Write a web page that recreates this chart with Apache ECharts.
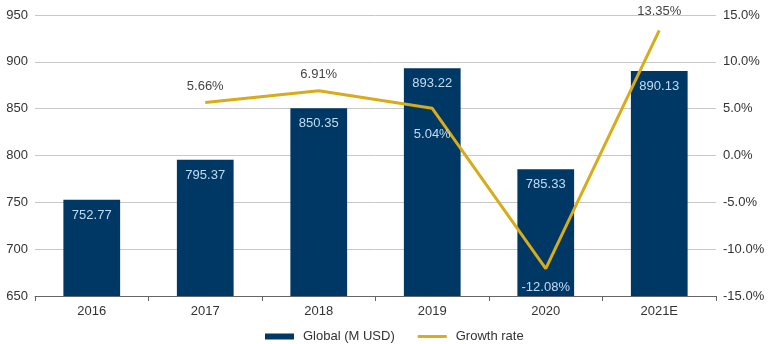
<!DOCTYPE html>
<html><head><meta charset="utf-8">
<script src="https://cdn.jsdelivr.net/npm/echarts@6/dist/echarts.min.js"></script>
<style>html,body{margin:0;padding:0;background:#fff}#c{width:770px;height:344px}</style>
</head><body><div id="c"></div>
<script>
var categories = ['2016','2017','2018','2019','2020','2021E'];
var globalValues = [752.77, 795.37, 850.35, 893.22, 785.33, 890.13];
var growthValues = [null, 5.66, 6.91, 5.04, -12.08, 13.35];
var leftTicks = {min: 650, max: 950, interval: 50};
var rightTicks = {min: -15, max: 15, interval: 5};

var labelPos = ['top','top','top','bottom','bottom','top'];
var labelDist = [10,10,10,20,12,12];
var labelCol = ['#444','#444','#444','#c2dbf2','#c2dbf2','#444'];
var growthData = growthValues.map(function(v,i){
  return {value: v, label: {show: true, position: labelPos[i], distance: labelDist[i], color: labelCol[i]}};
});
var font = 'Liberation Sans, Arial, sans-serif';
var chart = echarts.init(document.getElementById('c'));
chart.setOption({
  animation: false,
  textStyle: {fontFamily: font},
  grid: {left: 35, right: 54, top: 15, bottom: 48},
  legend: {
    top: 325, left: 260, itemWidth: 29, itemHeight: 6, itemGap: 23,
    textStyle: {fontSize: 13, color: '#333', fontFamily: font, padding: [0, 0, 0, 4]},
    data: [{name: 'Global (M USD)', icon: 'rect'}, {name: 'Growth rate', icon: 'path://M0,0H30V3H0Z', itemStyle: {color: '#d8ab1a'}}]
  },
  xAxis: {
    type: 'category', data: categories,
    axisLine: {onZero: false, lineStyle: {color: '#666'}},
    axisTick: {show: true, length: 5, lineStyle: {color: '#666'}},
    axisLabel: {color: '#333', fontSize: 13, margin: 9}
  },
  yAxis: [{
    type: 'value', min: leftTicks.min, max: leftTicks.max, interval: leftTicks.interval,
    axisLine: {show: false}, axisTick: {show: false},
    axisLabel: {color: '#333', fontSize: 13, margin: 7},
    splitLine: {lineStyle: {color: '#c8c8c8'}}
  }, {
    type: 'value', min: rightTicks.min, max: rightTicks.max, interval: rightTicks.interval,
    axisLine: {show: false}, axisTick: {show: false},
    axisLabel: {color: '#333', fontSize: 13, margin: 7, formatter: function(v){return v.toFixed(1)+'%';}},
    splitLine: {show: false}
  }],
  series: [{
    name: 'Global (M USD)', type: 'bar', data: globalValues, barWidth: '50%',
    itemStyle: {color: '#003865'},
    label: {show: true, position: 'insideTop', distance: 9, color: '#c2dbf2', fontSize: 13,
      formatter: function(p){return p.value.toFixed(2);}}
  }, {
    name: 'Growth rate', type: 'line', yAxisIndex: 1, data: growthData,
    symbol: 'circle', symbolSize: 0.1, showSymbol: true, showAllSymbol: true, connectNulls: false,
    lineStyle: {color: '#d8ab1a', width: 3}, itemStyle: {color: '#d8ab1a'},
    label: {show: true, fontSize: 13, formatter: function(p){return p.value == null ? '' : p.value.toFixed(2)+'%';}}
  }]
});
</script></body></html>
